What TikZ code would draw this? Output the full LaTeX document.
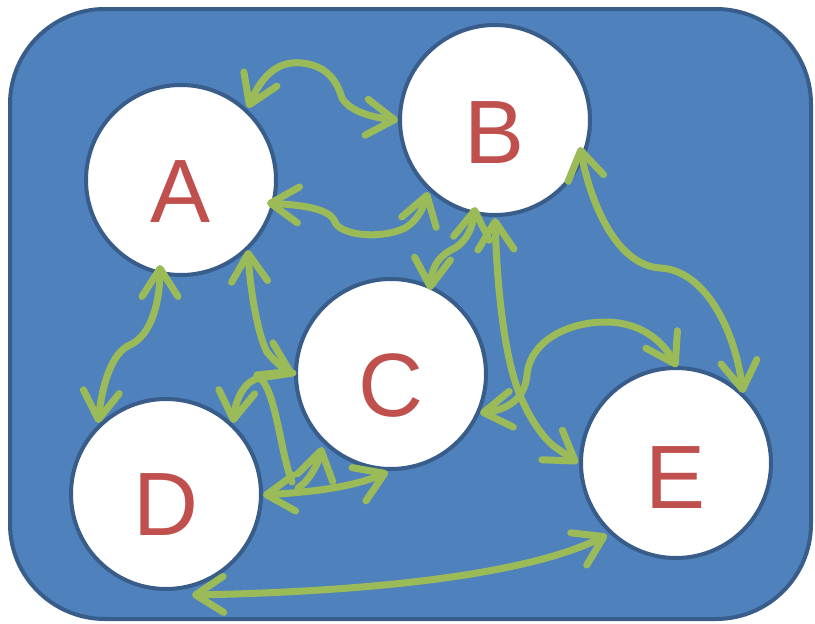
\documentclass[tikz,border=0pt]{standalone}
\usepackage{fontspec}
\setmainfont{Liberation Sans}
\usetikzlibrary{arrows.meta}
\definecolor{bgblue}{HTML}{4F81BD}
\definecolor{edgeblue}{HTML}{385D8A}
\definecolor{grn}{HTML}{9BBB59}
\definecolor{lred}{HTML}{C0504D}
\begin{document}
\begin{tikzpicture}[x=1pt,y=-1pt,
  panel/.style={fill=bgblue,draw=edgeblue,line width=4pt,rounded corners=95pt},
  ball/.style={circle,fill=white,draw=edgeblue,line width=4pt,minimum size=190pt,inner sep=0pt},
  letter/.style={anchor=base,text=lred,inner sep=0pt,font=\fontsize{90}{90}\selectfont},
  link/.style={draw=grn,line width=7pt,line cap=round,line join=round},
  >={Straight Barb[length=28pt,width=36pt,round]}]
\useasboundingbox (0,0) rectangle (815,624);
\fill[white] (0,0) rectangle (815,624);
\draw[panel] (10,9) rectangle (811,619);
% circles
\node[ball] (A) at (181,180) {};
\node[ball] (B) at (495,120) {};
\node[ball] (C) at (391,374) {};
\node[ball] (D) at (166,494) {};
\node[ball] (E) at (676,463) {};
\node[letter] (la) at (181,222) {A};
\node[letter] (lb) at (495,163) {B};
\node[letter] (lc) at (391,416) {C};
\node[letter] (ld) at (166,535) {D};
\node[letter] (le) at (676,508) {E};
% connector end points
\coordinate (a1) at (248,108); \coordinate (b1) at (398,120);
\coordinate (a2) at (267,203); \coordinate (b2) at (428,192);
\coordinate (a3) at (160,265); \coordinate (d3) at (98,423);
\coordinate (a4) at (248,250); \coordinate (c4) at (293,373);
\coordinate (d4) at (233,423); \coordinate (k4) at (260,378);
\coordinate (m5) at (292,482);
\coordinate (d5) at (263,495); \coordinate (c5) at (388,472);
\coordinate (c6) at (322,447); \coordinate (m6) at (298,488);
\coordinate (b7) at (475,207); \coordinate (c7) at (430,290);
\coordinate (b8) at (495,218); \coordinate (e8) at (578,463);
\coordinate (b9) at (580,147); \coordinate (e9) at (743,393);
\coordinate (c10) at (480,413); \coordinate (e10) at (677,367);
\coordinate (d11) at (192,595); \coordinate (e11) at (607,535);
% connectors
\draw[link,<->] (a1) .. controls (260,80) and (275,60) .. (302,63)
  .. controls (330,66) and (338,85) .. (342,98)
  .. controls (350,112) and (375,118) .. (b1);
\draw[link,<->] (a2) .. controls (300,205) and (330,208) .. (335,222)
  .. controls (340,235) and (380,240) .. (405,228)
  .. controls (415,222) and (422,212) .. (b2);
\draw[link,<->] (a3) .. controls (160,300) and (152,335) .. (130,345)
  .. controls (112,352) and (102,385) .. (d3);
\draw[link,<->] (a4) .. controls (250,290) and (258,335) .. (267,352)
  .. controls (275,362) and (283,368) .. (c4);
\draw[link,->] (c4) -- (k4) .. controls (245,380) and (236,398) .. (d4);
\draw[link] (k4) .. controls (276,392) and (280,450) .. (m5);
\draw[link,<->] (d5) .. controls (310,492) and (350,488) .. (c5);
\draw[link,->] (m6) .. controls (308,482) and (318,465) .. (c6);
\draw[link,<->] (b7) .. controls (473,225) and (468,240) .. (455,248)
  .. controls (440,255) and (432,265) .. (c7);
\draw[link,<->] (b8) .. controls (497,290) and (505,360) .. (520,395)
  .. controls (530,420) and (545,440) .. (555,447) -- (e8);
\draw[link,<->] (b9) .. controls (590,200) and (615,265) .. (660,268)
  .. controls (705,270) and (735,330) .. (e9);
\draw[link,<->] (c10) .. controls (505,410) and (525,400) .. (527,375)
  .. controls (530,340) and (570,322) .. (605,322)
  .. controls (640,322) and (662,340) .. (e10);
\draw[link,<->] (d11) .. controls (350,592) and (520,578) .. (e11);
\end{tikzpicture}
\end{document}
